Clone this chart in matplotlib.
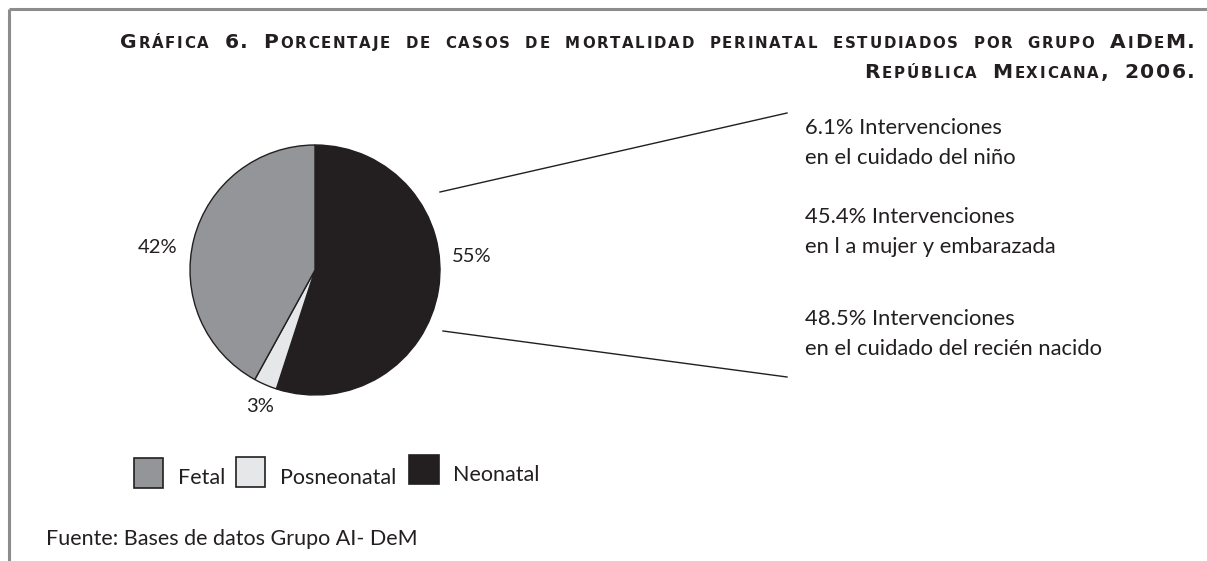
import matplotlib
matplotlib.use("Agg")
import matplotlib.pyplot as plt
from matplotlib.patches import Rectangle
from matplotlib.font_manager import FontProperties, findfont, get_font
try:
    from matplotlib.ft2font import LoadFlags
    NOHINT = LoadFlags.NO_HINTING
except Exception:  # older matplotlib
    from matplotlib.ft2font import LOAD_NO_HINTING as NOHINT

# ---- data ----
categories = ["Neonatal", "Posneonatal", "Fetal"]
values = [55, 3, 42]
colors = ["#231f20", "#e6e7e8", "#939598"]
legend_order = ["Fetal", "Posneonatal", "Neonatal"]
interv_pct = ["6.1%", "45.4%", "48.5%"]
interv_lines = [("Intervenciones", "en el cuidado del niño"),
                ("Intervenciones", "en l a mujer y embarazada"),
                ("Intervenciones", "en el cuidado del recién nacido")]
title1 = "Gráfica 6. Porcentaje de casos de mortalidad perinatal estudiados por grupo AiDeM."
title2 = "República Mexicana, 2006."
source = "Fuente: Bases de datos Grupo AI- DeM"

W, H = 1207, 561
DPI = 100
TXT = "#231f20"
BODY = "Lato"
BODY_SIZE = 15.5
fig = plt.figure(figsize=(W / DPI, H / DPI), dpi=DPI)
fig.patch.set_facecolor("white")

# overlay axes in pixel coordinates
ov = fig.add_axes([0, 0, 1, 1])
ov.set_xlim(0, W)
ov.set_ylim(H, 0)
ov.axis("off")

# frame lines
ov.plot([9, W], [8.5, 8.5], color="#8c8c8c", lw=2.2, solid_capstyle="butt")
ov.plot([9, 9], [8.5, H], color="#8c8c8c", lw=2.2, solid_capstyle="butt")

# ---- pie ----
cx, cy, R = 315, 270, 125
pax = fig.add_axes([(cx - R) / W, (H - cy - R) / H, 2 * R / W, 2 * R / H])
wedges, _ = pax.pie(values, colors=colors, startangle=90, counterclock=False,
                    wedgeprops=dict(edgecolor=TXT, linewidth=1.0))
pax.set_xlim(-1, 1)
pax.set_ylim(-1, 1)
pax.set_aspect("auto")

# percentage labels (pixel coords)
lab_pos = {"Neonatal": (472, 256), "Posneonatal": (260, 406), "Fetal": (158, 247)}
for c, v in zip(categories, values):
    x, y = lab_pos[c]
    ov.text(x, y, f"{v}%", fontsize=14.5, family=BODY, color=TXT, ha="center", va="center")

# leader lines
ov.plot([440, 787], [192, 113], color=TXT, lw=1.0)
ov.plot([443, 787], [331, 377], color=TXT, lw=1.0)

# intervention texts
base_y = [134, 223, 325]
for p, (l1, l2), by in zip(interv_pct, interv_lines, base_y):
    ov.text(805, by, f"{p} {l1}", fontsize=15.8, family=BODY, color=TXT, ha="left", va="baseline")
    ov.text(805, by + 30, l2, fontsize=15.8, family=BODY, color=TXT, ha="left", va="baseline")

# ---- legend ----
leg_boxes = {"Fetal": (134, 458, 29, 30), "Posneonatal": (236, 457, 29, 30), "Neonatal": (409, 455, 30, 29)}
leg_text = {"Fetal": (178, 484), "Posneonatal": (280, 484), "Neonatal": (453, 481)}
cmap = dict(zip(categories, colors))
for name in legend_order:
    x, y, w, h = leg_boxes[name]
    ov.add_patch(Rectangle((x, y), w, h, facecolor=cmap[name], edgecolor=TXT, lw=1.2))
    tx, ty = leg_text[name]
    ov.text(tx, ty, name, fontsize=BODY_SIZE, family=BODY, color=TXT, ha="left", va="baseline")

# source
ov.text(46, 545, source, fontsize=BODY_SIZE, family=BODY, color=TXT, ha="left", va="baseline")

# ---- small caps title ----
big = FontProperties(family="DejaVu Sans", weight="bold", size=14.6)
small = FontProperties(family="DejaVu Sans", weight="bold", size=10.8)


def advance(ch, fp):
    f = get_font(findfont(fp))
    f.set_size(fp.get_size_in_points(), DPI)
    g = f.load_char(ord(ch), flags=NOHINT)
    return g.linearHoriAdvance / 65536.0


SPACE_EXTRA = 5.0


def char_layout(s):
    items = []
    x = 0.0
    n = 0
    for ch in s:
        if ch == " ":
            x += advance(" ", big) + SPACE_EXTRA
            n += 1
            continue
        is_small = ch.islower()
        c = ch.upper() if is_small else ch
        fp = small if is_small else big
        items.append((x, c, fp, n))
        x += advance(c, fp)
        n += 1
    return items, x, n


def draw_smallcaps(s, right_x, base_y, track):
    items, total, n = char_layout(s)
    width = total + track * (n - 1)
    x0 = right_x - width
    for dx, c, fp, k in items:
        ov.text(x0 + dx + track * k, base_y, c, fontproperties=fp, color=TXT,
                ha="left", va="baseline")


# tracking chosen so that line 1 spans the reference width
_, tot1, n1 = char_layout(title1)
track = max(0.0, (1195 - 120 - tot1) / (n1 - 1))
draw_smallcaps(title1, 1195, 48, track)
draw_smallcaps(title2, 1195, 78, track)

fig.savefig("out.png", dpi=DPI, facecolor="white")
